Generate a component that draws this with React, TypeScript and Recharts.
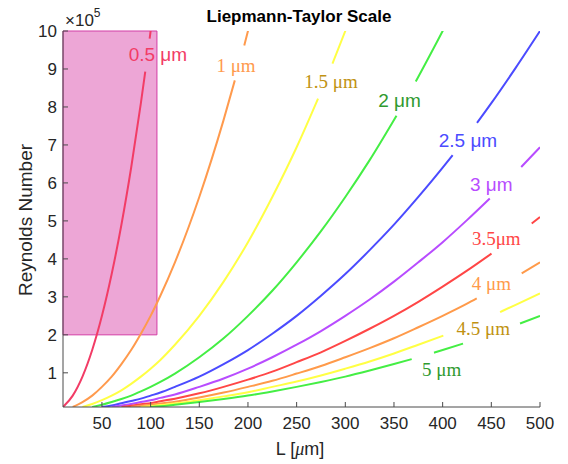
import { LineChart, Line, XAxis, YAxis, ReferenceArea, ReferenceDot } from "recharts";

// Reynolds number (x 10^5); null = gap for the inline label
const L_05 = [10, 20, 30, 40, 50, 60, 70, 80, 90, 94.5, 96, 99, 100, 102];
const RE_05 = [0.1, 0.4, 0.9, 1.6, 2.5, 3.6, 4.9, 6.4, 8.1, 8.93, null, 9.8, 10, 10.4];

const L_10 = [20, 30, 40, 50, 60, 70, 80, 90, 100, 110, 125, 150, 175, 186.5, 190, 196.2, 200, 205];
const RE_10 = [0.1, 0.23, 0.4, 0.63, 0.9, 1.23, 1.6, 2.03, 2.5, 3.03, 3.91, 5.63, 7.66, 8.7, null, 9.62, 10, 10.5];

const L_15 = [30, 40, 50, 60, 70, 80, 90, 100, 110, 125, 150, 175, 200, 225, 250, 272, 280, 286.8, 300, 310];
const RE_15 = [0.1, 0.18, 0.28, 0.4, 0.54, 0.71, 0.9, 1.11, 1.34, 1.74, 2.5, 3.4, 4.44, 5.63, 6.94, 8.22, null, 9.14, 10, 10.68];

const L_20 = [40, 50, 60, 70, 80, 90, 100, 110, 125, 150, 175, 200, 225, 250, 275, 300, 325, 352.6, 360, 372.4, 400, 410];
const RE_20 = [0.1, 0.16, 0.23, 0.31, 0.4, 0.51, 0.63, 0.76, 0.98, 1.41, 1.91, 2.5, 3.16, 3.91, 4.73, 5.63, 6.6, 7.77, null, 8.67, 10, 10.5];

const L_25 = [50, 60, 70, 80, 90, 100, 110, 125, 150, 175, 200, 225, 250, 275, 300, 325, 350, 375, 400, 410.2, 420, 435.3, 450, 475, 500];
const RE_25 = [0.1, 0.14, 0.2, 0.26, 0.32, 0.4, 0.48, 0.63, 0.9, 1.23, 1.6, 2.03, 2.5, 3.03, 3.6, 4.23, 4.9, 5.63, 6.4, 6.73, null, 7.58, 8.1, 9.03, 10];

const L_30 = [60, 70, 80, 90, 100, 110, 125, 150, 175, 200, 225, 250, 275, 300, 325, 350, 375, 400, 425, 448.4, 460, 480.7, 500];
const RE_30 = [0.1, 0.14, 0.18, 0.23, 0.28, 0.34, 0.43, 0.63, 0.85, 1.11, 1.41, 1.74, 2.1, 2.5, 2.93, 3.4, 3.91, 4.44, 5.02, 5.59, null, 6.42, 6.94];

const L_35 = [70, 80, 90, 100, 110, 125, 150, 175, 200, 225, 250, 275, 300, 325, 350, 375, 400, 425, 450.2, 470, 491.5, 500];
const RE_35 = [0.1, 0.13, 0.17, 0.2, 0.25, 0.32, 0.46, 0.63, 0.82, 1.03, 1.28, 1.54, 1.84, 2.16, 2.5, 2.87, 3.27, 3.69, 4.14, null, 4.93, 5.1];

const L_40 = [80, 90, 100, 110, 125, 150, 175, 200, 225, 250, 275, 300, 325, 350, 375, 400, 425, 435, 460, 481.2, 500];
const RE_40 = [0.1, 0.13, 0.16, 0.19, 0.24, 0.35, 0.48, 0.63, 0.79, 0.98, 1.18, 1.41, 1.65, 1.91, 2.2, 2.5, 2.82, 2.96, null, 3.62, 3.91];

const L_45 = [90, 100, 110, 125, 150, 175, 200, 225, 250, 275, 300, 325, 350, 375, 400.7, 430, 459, 475, 500];
const RE_45 = [0.1, 0.12, 0.15, 0.19, 0.28, 0.38, 0.49, 0.63, 0.77, 0.93, 1.11, 1.3, 1.51, 1.74, 1.98, null, 2.6, 2.79, 3.09];

const L_50 = [100, 110, 125, 150, 175, 200, 225, 250, 275, 300, 325, 350, 368.2, 380, 391.1, 400, 420.9, 450, 479.5, 500];
const RE_50 = [0.1, 0.12, 0.16, 0.23, 0.31, 0.4, 0.51, 0.63, 0.76, 0.9, 1.06, 1.23, 1.36, null, 1.53, 1.6, 1.77, null, 2.3, 2.5];

const xTicks = [50, 100, 150, 200, 250, 300, 350, 400, 450, 500];
const yTicks = [1, 2, 3, 4, 5, 6, 7, 8, 9, 10];

type Curve = {
  name: string;
  xs: number[];
  ys: (number | null)[];
  color: string;
  labelColor: string;
  labelAt: [number, number];
  serif: boolean;
};

const curves: Curve[] = [
  { name: "0.5 μm", xs: L_05, ys: RE_05, color: "#f23c66", labelColor: "#f23c66", labelAt: [107.5, 9.37], serif: false },
  { name: "1 μm", xs: L_10, ys: RE_10, color: "#ff9a4d", labelColor: "#ff9a4d", labelAt: [187.7, 9.1], serif: true },
  { name: "1.5 μm", xs: L_15, ys: RE_15, color: "#ffff44", labelColor: "#c09212", labelAt: [285.3, 8.66], serif: true },
  { name: "2 μm", xs: L_20, ys: RE_20, color: "#44ee44", labelColor: "#2f9a2f", labelAt: [355.7, 8.18], serif: false },
  { name: "2.5 μm", xs: L_25, ys: RE_25, color: "#4b4bff", labelColor: "#4b4bff", labelAt: [426, 7.13], serif: false },
  { name: "3 μm", xs: L_30, ys: RE_30, color: "#b84cff", labelColor: "#b84cff", labelAt: [450, 5.97], serif: false },
  { name: "3.5μm", xs: L_35, ys: RE_35, color: "#ff4646", labelColor: "#ff4646", labelAt: [455.1, 4.54], serif: true },
  { name: "4 μm", xs: L_40, ys: RE_40, color: "#ff9a4a", labelColor: "#ff9a4a", labelAt: [450, 3.34], serif: true },
  { name: "4.5 μm", xs: L_45, ys: RE_45, color: "#ffff44", labelColor: "#c09212", labelAt: [441.8, 2.17], serif: true },
  { name: "5 μm", xs: L_50, ys: RE_50, color: "#44ee44", labelColor: "#2f9a2f", labelAt: [399, 1.09], serif: true },
];

const SANS = "'Liberation Sans', Arial, sans-serif";
const SERIF = "'Liberation Serif', 'Times New Roman', serif";
const AXIS = "#4a4a4a";
const TEXT = "#262626";

export default function App() {
  return (
    <div style={{ position: "absolute", left: 0, top: 0, width: 568, height: 464, background: "#fff" }}>
      <LineChart width={568} height={464} margin={{ top: 31, right: 28, bottom: 27, left: 23 }}>
        <XAxis
          type="number"
          dataKey="L"
          domain={[10, 500]}
          ticks={xTicks}
          allowDataOverflow
          stroke={AXIS}
          tickSize={-5}
          tickMargin={15}
          height={30}
          tick={{ fill: TEXT, fontSize: 17, fontFamily: SANS }}
        />
        <XAxis xAxisId="top" orientation="top" type="number" domain={[10, 500]} ticks={xTicks} allowDataOverflow stroke={AXIS} tickSize={-5} tick={false} height={0} />
        <YAxis
          type="number"
          domain={[0.1, 10]}
          ticks={yTicks}
          allowDataOverflow
          stroke={AXIS}
          tickSize={-5}
          tickMargin={11}
          width={40}
          tick={{ fill: TEXT, fontSize: 17, fontFamily: SANS }}
        />
        <YAxis yAxisId="right" orientation="right" type="number" domain={[0.1, 10]} ticks={yTicks} allowDataOverflow stroke={AXIS} tickSize={-5} tick={false} width={0} />
        <ReferenceArea x1={10} x2={106.5} y1={2} y2={10} fill="#eda6d6" fillOpacity={1} stroke="#d23ca5" strokeWidth={1} />
        {curves.map((c) => (
          <Line
            key={c.name}
            data={c.xs.map((L, i) => ({ L, re: c.ys[i] }))}
            dataKey="re"
            type="monotone"
            stroke={c.color}
            strokeWidth={2}
            dot={false}
            activeDot={false}
            connectNulls={false}
            isAnimationActive={false}
          />
        ))}
        {curves.map((c) => (
          <ReferenceDot
            key={"lbl" + c.name}
            x={c.labelAt[0]}
            y={c.labelAt[1]}
            r={1}
            fill="none"
            stroke="none"
            label={(p: any) => {
              const vb = p.viewBox || {};
              const cx = (vb.x || 0) + (vb.width || 0) / 2;
              const cy = (vb.y || 0) + (vb.height || 0) / 2;
              return (
                <text x={cx} y={cy} textAnchor="middle" dominantBaseline="central" fill={c.labelColor} fontSize={19} fontFamily={c.serif ? SERIF : SANS}>
                  {c.name}
                </text>
              );
            }}
          />
        ))}
      </LineChart>
      <svg width={568} height={464} style={{ position: "absolute", left: 0, top: 0, pointerEvents: "none" }}>
        <text x={299} y={22} textAnchor="middle" fontSize={17} fontWeight="bold" fontFamily={SANS} fill="#000">
          Liepmann-Taylor Scale
        </text>
        <text x={65} y={26} fontSize={17} fontFamily={SANS} fill={TEXT}>
          ×10<tspan dy={-9} fontSize={12}>5</tspan>
        </text>
        <text transform="translate(31.5,220) rotate(-90)" textAnchor="middle" fontSize={19} fontFamily={SANS} fill={TEXT}>
          Reynolds Number
        </text>
        <text x={300} y={455} textAnchor="middle" fontSize={18} fontFamily={SANS} fill={TEXT}>
          L [<tspan fontFamily={SERIF} fontStyle="italic">μ</tspan>m]
        </text>
      </svg>
    </div>
  );
}
